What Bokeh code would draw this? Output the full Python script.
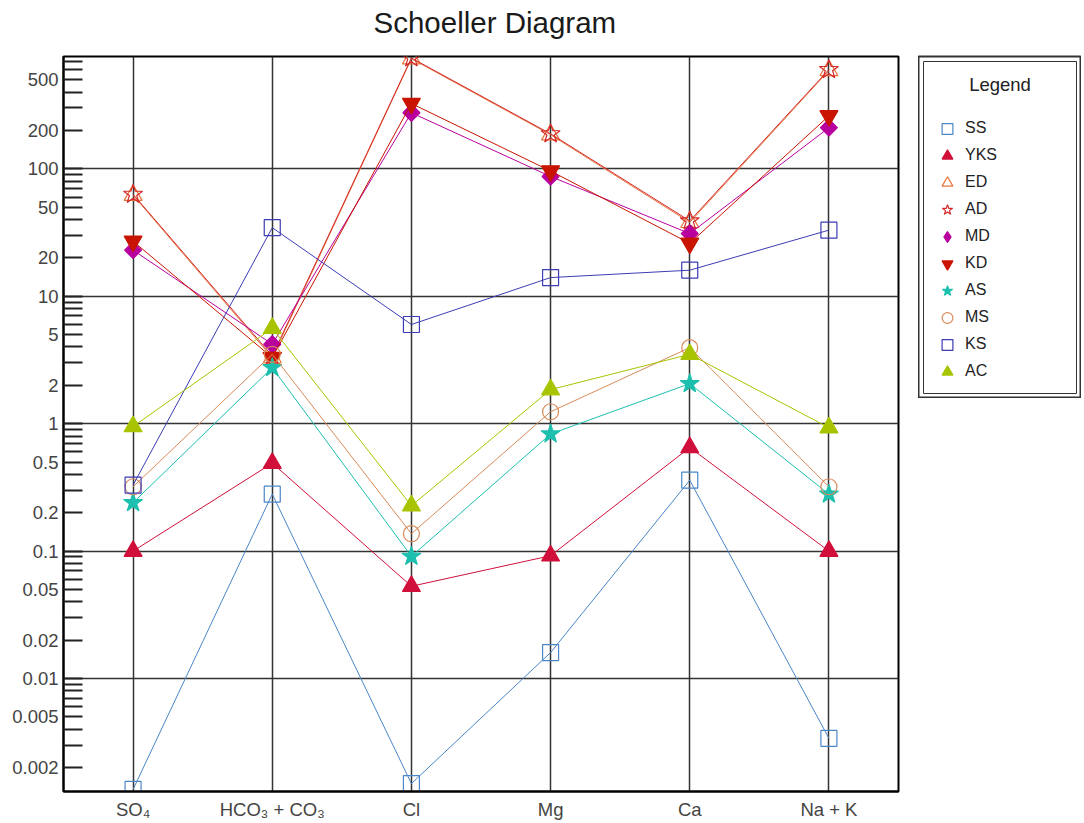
from bokeh.plotting import figure
from bokeh.models import (Range1d, FixedTicker, CustomJSTickFormatter, Legend,
                          LegendItem, Label)
from bokeh.layouts import row, column
from bokeh.embed import file_html
from bokeh.resources import INLINE
import math

# ---------------- data ----------------
categories = ["SO\u2084", "HCO\u2083 + CO\u2083", "Cl", "Mg", "Ca", "Na + K"]
series_names = ["SS", "YKS", "ED", "AD", "MD", "KD", "AS", "MS", "KS", "AC"]

SS  = [0.00135, 0.28, 0.0015, 0.016, 0.36, 0.0034]
YKS = [0.10, 0.49, 0.053, 0.092, 0.65, 0.10]
ED  = [62, 3.3, 730, 185, 38, 590]
AD  = [63, 3.4, 740, 188, 39, 600]
MD  = [23, 4.2, 275, 87, 31, 210]
KD  = [27, 3.3, 325, 96, 26, 260]
AS  = [0.24, 2.75, 0.091, 0.83, 2.06, 0.28]
MS  = [0.32, 3.5, 0.137, 1.24, 3.95, 0.32]
KS  = [0.33, 34.5, 6.0, 14, 16, 33]
AC  = [0.95, 5.6, 0.227, 1.85, 3.5, 0.93]

series_values = [SS, YKS, ED, AD, MD, KD, AS, MS, KS, AC]

# style per series: marker, legend marker, color, filled, size, angle
styles = {
    "SS":  ("square", "square", "#4a86c8", False, 16, 0.0),
    "YKS": ("triangle", "triangle", "#d0103a", True, 18, 0.0),
    "ED":  ("triangle", "triangle", "#e8743b", False, 18, 0.0),
    "AD":  ("star", "star", "#d42a2a", False, 20, 0.0),
    "MD":  ("square", "diamond", "#b8009e", True, 12, math.pi / 4),
    "KD":  ("inverted_triangle", "inverted_triangle", "#c81400", True, 18, 0.0),
    "AS":  ("star", "star", "#1dbfae", True, 20, 0.0),
    "MS":  ("circle", "circle", "#d88a5a", False, 16, 0.0),
    "KS":  ("square", "square", "#3c3cb4", False, 16, 0.0),
    "AC":  ("triangle", "triangle", "#a8c400", True, 18, 0.0),
}

FONT = "Liberation Sans"
xs = list(range(len(categories)))

# ---------------- title strip ----------------
TITLE_H = 50
tfig = figure(frame_width=1081, frame_height=TITLE_H,
              x_range=Range1d(0, 1081), y_range=Range1d(0, TITLE_H),
              output_backend="svg", toolbar_location=None,
              x_axis_location=None, y_axis_location=None,
              min_border=0)
tfig.grid.visible = False
tfig.outline_line_color = None
tfig.add_layout(Label(x=373, y=28, text="Schoeller Diagram",
                      text_font=FONT, text_font_size="29.5px",
                      text_color="#1a1a1a", text_baseline="alphabetic",
                      text_align="left"))

# ---------------- main figure ----------------
p = figure(frame_width=835, frame_height=735,
           x_range=Range1d(-0.5, 5.5), y_range=Range1d(0.0013, 760),
           y_axis_type="log", output_backend="svg", toolbar_location=None,
           min_border_left=63, min_border_right=20,
           min_border_top=56 - TITLE_H, min_border_bottom=30)

p.outline_line_color = "black"
p.outline_line_width = 2
p.background_fill_color = "white"
p.border_fill_color = "white"

yticks = []
for k in range(-3, 3):
    for m in range(1, 10):
        v = m * 10.0 ** k
        if 0.0013 <= v <= 760:
            yticks.append(v)

p.yaxis.ticker = FixedTicker(ticks=yticks)
p.yaxis.formatter = CustomJSTickFormatter(code="""
    const e = Math.floor(Math.log10(tick) + 1e-9);
    const m = tick / Math.pow(10, e);
    const r = Math.round(m);
    if (Math.abs(m - r) > 1e-6 || !(r == 1 || r == 2 || r == 5)) { return ""; }
    return String(Number(tick.toPrecision(1)));
""")
p.yaxis.major_tick_in = 19
p.yaxis.major_tick_out = 0
p.yaxis.minor_tick_in = 0
p.yaxis.minor_tick_out = 0
p.yaxis.major_tick_line_width = 2
p.yaxis.major_tick_line_color = "#222222"
p.yaxis.axis_line_width = 2
p.yaxis.axis_line_color = "black"
p.yaxis.major_label_text_font = FONT
p.yaxis.major_label_text_font_size = "18.5px"
p.yaxis.major_label_text_color = "#444444"
p.yaxis.major_label_standoff = 5

p.xaxis.ticker = FixedTicker(ticks=xs)
p.xaxis.major_label_overrides = {i: c for i, c in zip(xs, categories)}
p.xaxis.major_tick_in = 0
p.xaxis.major_tick_out = 0
p.xaxis.minor_tick_in = 0
p.xaxis.minor_tick_out = 0
p.xaxis.axis_line_width = 2
p.xaxis.axis_line_color = "black"
p.xaxis.major_label_text_font = FONT
p.xaxis.major_label_text_font_size = "18.5px"
p.xaxis.major_label_text_color = "#444444"
p.xaxis.major_label_standoff = 7

p.xgrid.ticker = FixedTicker(ticks=xs)
p.ygrid.ticker = FixedTicker(ticks=[0.01, 0.1, 1, 10, 100])
p.grid.grid_line_color = "#333333"
p.grid.grid_line_width = 1.5
p.grid.minor_grid_line_color = None

for name, vals in zip(series_names, series_values):
    marker, _lm, color, filled, size, angle = styles[name]
    p.line(xs, vals, line_color=color, line_width=1)
    p.scatter(xs, vals, marker=marker, size=size, angle=angle, line_color=color,
              fill_color=color if filled else None,
              fill_alpha=1.0 if filled else 0.0, line_width=1.2)

# ---------------- legend panel ----------------
p2 = figure(frame_width=163, frame_height=342,
            x_range=Range1d(0, 163), y_range=Range1d(0, 342),
            output_backend="svg", toolbar_location=None,
            x_axis_location=None, y_axis_location=None,
            min_border_top=56 - TITLE_H, min_border_left=0, min_border_right=0,
            min_border_bottom=0)
p2.grid.visible = False
p2.outline_line_color = "#333333"
p2.outline_line_width = 2
p2.quad(left=[5], right=[158], top=[337], bottom=[5], fill_alpha=0,
        line_color="#333333", line_width=1)

p2.add_layout(Label(x=81.5, y=314, text="Legend", text_align="center",
                    text_baseline="middle", text_font=FONT,
                    text_font_size="18.5px", text_color="#222222"))

items = []
for name in series_names:
    _m, lmarker, color, filled, size, angle = styles[name]
    # proxy glyph kept outside the visible range; only its legend swatch shows
    r = p2.scatter(x=[-1000], y=[-1000], marker=lmarker,
                   line_color=color, fill_color=color if filled else None,
                   fill_alpha=1.0 if filled else 0.0, line_width=1.2)
    items.append(LegendItem(label=name, renderers=[r]))

legend = Legend(items=items, location=(15, 13.5), glyph_width=28,
                glyph_height=27, label_height=27, spacing=0, padding=0,
                margin=0, border_line_color=None, background_fill_alpha=0,
                label_text_font=FONT, label_text_font_size="16px",
                label_text_color="#222222", label_standoff=4,
                ncols=1, nrows=10)
p2.add_layout(legend)

layout = column(tfig, row(p, p2))
open("out.html", "w").write(file_html(layout, INLINE))
